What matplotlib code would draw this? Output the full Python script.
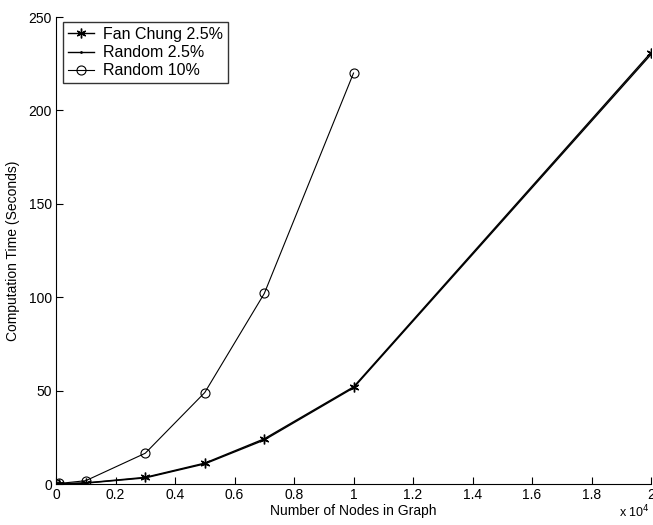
import numpy as np
import matplotlib.pyplot as plt

plt.rcParams['font.family'] = ['Liberation Sans', 'DejaVu Sans']

nodes = np.array([10, 100, 1000, 3000, 5000, 7000, 10000, 20000])
fan_chung_25 = [0.0, 0.1, 0.6, 3.6, 11.2, 24.2, 52.0, 231.0]
random_25 = [0.0, 0.1, 0.5, 3.3, 10.8, 23.6, 51.5, 230.0]

nodes_r10 = np.array([10, 100, 1000, 3000, 5000, 7000, 10000])
random_10 = [0.0, 0.3, 1.8, 16.5, 49.0, 102.0, 220.0]

fig = plt.figure(figsize=(6.53, 5.25), dpi=100)
ax = fig.add_axes([0.0858, 0.078, 0.9112, 0.8896])

# matlab style asterisk marker
asterisk = (6, 2, 0)

ax.plot(nodes / 1e4, fan_chung_25, color='black', lw=1.0, marker=asterisk, ms=7,
        mew=1.0, label='Fan Chung 2.5%')
ax.plot(nodes / 1e4, random_25, color='black', lw=1.0, marker='.', ms=2,
        label='Random 2.5%')
ax.plot(nodes_r10 / 1e4, random_10, color='black', lw=0.8, marker='o', ms=6.5,
        mfc='none', mew=0.8, label='Random 10%')

ax.set_xlim(0, 2)
ax.set_ylim(0, 250)
ax.set_xticks(np.arange(0, 2.01, 0.2))
ax.set_xticklabels(['0', '0.2', '0.4', '0.6', '0.8', '1', '1.2', '1.4', '1.6', '1.8', '2'])
ax.set_yticks(np.arange(0, 251, 50))

ax.spines['top'].set_visible(False)
ax.spines['right'].set_visible(False)
ax.tick_params(direction='in', length=5, width=0.8, labelsize=10, pad=3)
ax.set_xlabel('Number of Nodes in Graph', fontsize=10, labelpad=1)
ax.set_ylabel('Computation Time (Seconds)', fontsize=10, labelpad=6)

fig.text(0.948, 0.008, r'x 10$^{4}$', fontsize=9, ha='left', va='bottom')

leg = ax.legend(loc='upper left', bbox_to_anchor=(0.012, 0.989), borderaxespad=0,
                fontsize=11.5, frameon=True, fancybox=False, edgecolor='black',
                handlelength=1.6, borderpad=0.3, labelspacing=0.2,
                handletextpad=0.6)
leg.get_frame().set_linewidth(1.0)

plt.savefig('out.png', dpi=100)
plt.close()
